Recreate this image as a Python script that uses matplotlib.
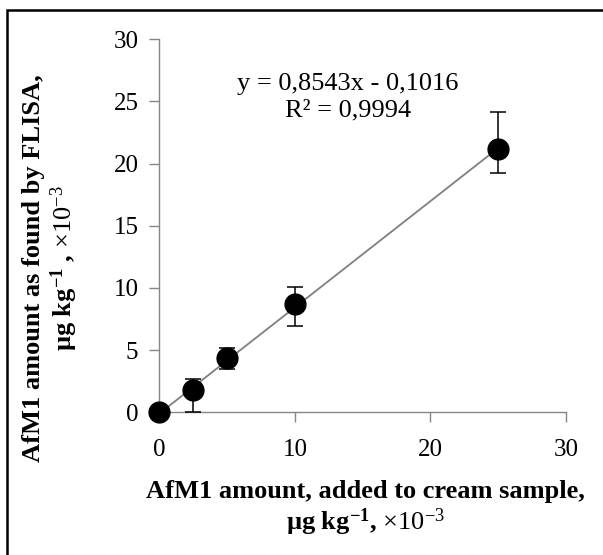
import matplotlib
matplotlib.use("Agg")
import matplotlib.pyplot as plt
from matplotlib.patches import Rectangle
import numpy as np

# Data
added = np.array([0, 2.5, 5, 10, 25])
found = np.array([0, 1.79, 4.34, 8.69, 21.16])
err_low = np.array([0, 1.79, 0.85, 1.75, 1.88])
err_high = np.array([0, 0.85, 0.8, 1.41, 2.97])
slope, intercept = 0.8543, -0.1016
x_ticks = [0, 10, 20, 30]
y_ticks = [0, 5, 10, 15, 20, 25, 30]

plt.rcParams['font.family'] = 'Liberation Serif'
plt.rcParams['mathtext.fontset'] = 'custom'
plt.rcParams['mathtext.rm'] = 'Liberation Serif'
plt.rcParams['mathtext.bf'] = 'Liberation Serif:bold'
plt.rcParams['mathtext.it'] = 'Liberation Serif:italic'

fig = plt.figure(figsize=(6.03, 5.55), dpi=100)
ax = fig.add_axes([0.2642, 0.2571, 0.6745, 0.6721])

# trendline
xl = np.array([added[0], added[-1]])
ax.plot(xl, slope * xl + intercept, color='#7f7f7f', linewidth=1.3, zorder=2)

# points with error bars
ax.errorbar(added, found, yerr=[err_low, err_high], fmt='o', color='black',
            markersize=15, ecolor='black', elinewidth=1.1, capsize=6,
            capthick=1.1, zorder=3, clip_on=False)

ax.set_xlim(0, 30)
ax.set_ylim(0, 30)
ax.set_xticks(x_ticks)
ax.set_yticks(y_ticks)
for s in ['top', 'right']:
    ax.spines[s].set_visible(False)
for s in ['left', 'bottom']:
    ax.spines[s].set_color('#868686')
    ax.spines[s].set_linewidth(1.0)
ax.tick_params(axis='both', direction='out', length=7, width=1.0,
               color='#868686', labelsize=18)
ax.tick_params(axis='x', pad=12)
ax.tick_params(axis='y', pad=8)

ax.text(0.464, 0.845, 'y = 0,8543x - 0,1016\nR² = 0,9994', transform=ax.transAxes,
        ha='center', va='center', fontsize=19, linespacing=1.3)

ax.set_xlabel('AfM1 amount, added to cream sample,\n'
              r'µg kg$^{\mathbf{-1}}$, $\mathrm{\times 10^{-3}}$',
              fontsize=19, fontweight='bold', linespacing=1.15)
ax.xaxis.set_label_coords(0.508, -0.259)
ax.xaxis.label.set_va('center')

ax.set_ylabel('AfM1 amount as found by FLISA,\n'
              r'µg kg$^{\mathbf{-1}}$ , $\mathrm{\times 10^{-3}}$',
              fontsize=19, fontweight='bold', linespacing=1.15)
ax.yaxis.set_label_coords(-0.266, 0.387)
ax.yaxis.label.set_va('center')

# outer frame (left and top edges visible, the rest runs off the picture)
fig.add_artist(Rectangle((7 / 603, -20 / 555), 620 / 603, 565 / 555,
                         transform=fig.transFigure, fill=False,
                         edgecolor='black', linewidth=1.8, clip_on=False))

fig.savefig('out.png', dpi=100)
